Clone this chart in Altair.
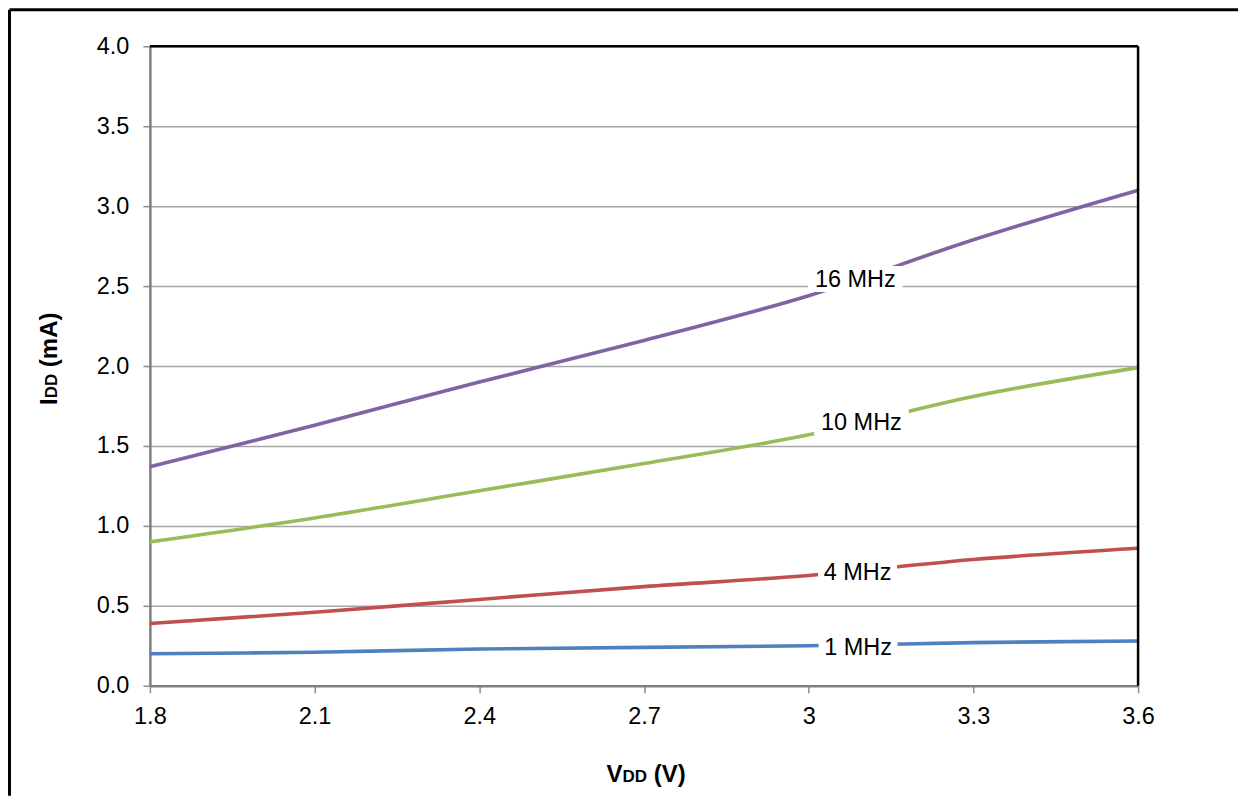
import altair as alt
import pandas as pd

# ---- data ----
vdd = [1.8, 2.1, 2.4, 2.7, 3.0, 3.3, 3.6]
series_names = ["1 MHz", "4 MHz", "10 MHz", "16 MHz"]
idd_1mhz = [0.20, 0.21, 0.23, 0.24, 0.25, 0.27, 0.28]
idd_4mhz = [0.39, 0.46, 0.54, 0.62, 0.69, 0.79, 0.86]
idd_10mhz = [0.90, 1.05, 1.22, 1.39, 1.57, 1.81, 1.99]
idd_16mhz = [1.37, 1.63, 1.90, 2.16, 2.44, 2.79, 3.10]
series_colors = ["#4F81BD", "#C0504D", "#9BBB59", "#8064A2"]

label_vdd = [3.09, 3.089, 3.096, 3.085]
label_idd = [0.245, 0.71, 1.65, 2.545]

x_ticks = [1.8, 2.1, 2.4, 2.7, 3.0, 3.3, 3.6]
y_ticks = [0.0, 0.5, 1.0, 1.5, 2.0, 2.5, 3.0, 3.5, 4.0]

FONT = "Liberation Sans"
W, H = 989, 640

rows = []
for name, vals in zip(series_names, [idd_1mhz, idd_4mhz, idd_10mhz, idd_16mhz]):
    for v, i in zip(vdd, vals):
        rows.append({"series": name, "vdd": v, "idd": i})
df = pd.DataFrame(rows)
labels = pd.DataFrame({"series": series_names, "vdd": label_vdd, "idd": label_idd})

xscale = alt.Scale(domain=[1.8, 3.6], nice=False, zero=False)
yscale = alt.Scale(domain=[0, 4], nice=False, zero=True)
color = alt.Color("series:N", scale=alt.Scale(domain=series_names, range=series_colors), legend=None)

xax = alt.Axis(values=x_ticks, format="~g", title=None, grid=False, labelFlush=False)
yax = alt.Axis(values=y_ticks, format=".1f", title=None, grid=True, labelFlush=False)

lines = alt.Chart(df).mark_line(interpolate="catmull-rom", strokeWidth=3.6).encode(
    x=alt.X("vdd:Q", scale=xscale, axis=xax),
    y=alt.Y("idd:Q", scale=yscale, axis=yax),
    color=color,
)

px_per_v = W / 1.8
px_per_ma = H / 4.0
boxes = alt.Chart(labels).transform_calculate(
    x_lo=f"datum.vdd - length(datum.series) * 15.8 / 2 / {px_per_v}",
    x_hi=f"datum.vdd + length(datum.series) * 15.8 / 2 / {px_per_v}",
    y_lo=f"datum.idd - 13 / {px_per_ma}",
    y_hi=f"datum.idd + 13 / {px_per_ma}",
).mark_rect(color="white", opacity=1).encode(
    x=alt.X("x_lo:Q", scale=xscale), x2="x_hi:Q",
    y=alt.Y("y_lo:Q", scale=yscale), y2="y_hi:Q",
)

texts = alt.Chart(labels).mark_text(
    font=FONT, fontSize=23.5, color="black", align="center", baseline="middle", dy=1
).encode(
    x=alt.X("vdd:Q", scale=xscale),
    y=alt.Y("idd:Q", scale=yscale),
    text="series:N",
)

one = pd.DataFrame({"k": [0]})


def rule(color, width, **enc):
    return alt.Chart(one).mark_rule(color=color, strokeWidth=width).encode(
        **{k: alt.value(v) for k, v in enc.items()}
    )


def txt(s, x, y, size, angle=0):
    kw = dict(text=s, font=FONT, fontSize=size, fontWeight="bold", color="black",
              align="left", baseline="alphabetic")
    if angle:
        kw["angle"] = angle
    return alt.Chart(one).mark_text(**kw).encode(x=alt.value(x), y=alt.value(y))


frame = [
    rule("black", 2.5, x=0, x2=W, y=0),            # plot top border
    rule("black", 2.5, x=W, y=0, y2=H),            # plot right border
    rule("black", 3, x=-140.5, x2=W + 100, y=-36.5),  # outer frame top
    rule("black", 3, x=-140.5, y=-36.5, y2=H + 110),  # outer frame left
]

# axis titles with smaller "DD"
SP = 6.7  # width of a space at 24px bold
xt_x, xt_y = 457, 736
x_title = [
    txt("V", xt_x, xt_y, 24),
    txt("DD", xt_x + 16.0, xt_y, 17),
    txt("(V)", xt_x + 16.0 + 24.5 + SP, xt_y, 24),
]
yt_x, yt_y = -93, 359
y_title = [
    txt("I", yt_x, yt_y, 24, 270),
    txt("DD", yt_x, yt_y - 6.7, 17, 270),
    txt("(mA)", yt_x, yt_y - 6.7 - 24.5 - SP, 24, 270),
]

chart = alt.layer(lines, boxes, texts, *frame, *x_title, *y_title).properties(
    width=W, height=H,
    autosize=alt.AutoSizeParams(type="none"),
    padding={"left": 142, "top": 38, "right": 100, "bottom": 110},
).configure_view(stroke=None).configure_axis(
    labelFont=FONT, labelFontSize=23.5, labelColor="black",
    domainColor="#7F7F7F", domainWidth=2.5,
    tickColor="#8C8C8C", tickWidth=1.5, tickSize=7,
    gridColor="#A6A6A6", gridWidth=1.5,
).configure_axisY(labelPadding=14).configure_axisX(labelPadding=12)

chart.save("out.html", embed_options={"renderer": "svg", "actions": False})
